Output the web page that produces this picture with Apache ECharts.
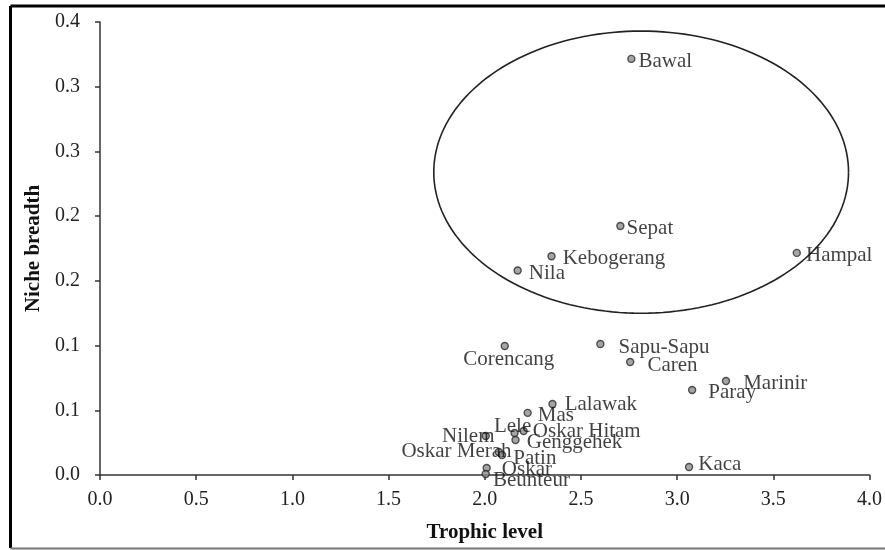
<!DOCTYPE html>
<html>
<head>
<meta charset="utf-8">
<script src="https://cdn.jsdelivr.net/npm/echarts@6/dist/echarts.min.js"></script>
<style>
html,body{margin:0;padding:0;background:#fff;}
#chart{width:885px;height:550px;}
</style>
</head>
<body>
<div id="chart"></div>
<script>
// ---- data ----
const species = ['Bawal','Sepat','Kebogerang','Nila','Hampal','Corencang','Sapu-Sapu','Caren','Paray','Marinir','Kaca','Lalawak','Mas','Lele','Oskar Hitam','Nilem','Genggehek','Oskar Merah','Patin','Oskar','Beunteur'];
const trophicLevel = [2.762,2.705,2.347,2.171,3.622,2.104,2.601,2.756,3.078,3.254,3.062,2.352,2.223,2.155,2.202,2.005,2.160,2.073,2.090,2.010,2.005];
const nicheBreadth = [0.3215,0.1924,0.1690,0.1580,0.1716,0.0997,0.1012,0.0873,0.0657,0.0726,0.0062,0.0549,0.0480,0.0325,0.0340,0.0301,0.0270,0.0178,0.0155,0.0054,0.0008];
const xTickLabels = ['0.0','0.5','1.0','1.5','2.0','2.5','3.0','3.5','4.0'];
const yTickLabels = ['0.0','0.1','0.1','0.2','0.2','0.3','0.3','0.4'];
// ellipse enclosing the upper group: centre x, centre y, radius x, radius y (data units)
const ellipseGroup = [2.813, 0.234, 1.078, 0.109];

// ---- label placement (style) ----
const labelPlace = {
  'Bawal':{p:'right',o:[1,3]}, 'Sepat':{p:'right',o:[0,3]}, 'Kebogerang':{p:'right',o:[5,2]},
  'Nila':{p:'right',o:[5,3]}, 'Hampal':{p:'right',o:[3,3]}, 'Corencang':{p:'bottom',o:[4,-3]},
  'Sapu-Sapu':{p:'right',o:[12,3]}, 'Caren':{p:'right',o:[11,3]}, 'Paray':{p:'right',o:[10,3]},
  'Marinir':{p:'right',o:[11,2]}, 'Kaca':{p:'right',o:[3,-2]}, 'Lalawak':{p:'right',o:[6,1]},
  'Mas':{p:'right',o:[4,3]}, 'Lele':{p:'top',o:[-2,10]}, 'Oskar Hitam':{p:'right',o:[3,0]},
  'Nilem':{p:'left',o:[15,0]}, 'Genggehek':{p:'right',o:[5,2]}, 'Oskar Merah':{p:'left',o:[19,0]},
  'Patin':{p:'right',o:[5,4]}, 'Oskar':{p:'right',o:[9,1]}, 'Beunteur':{p:'right',o:[1,7]}
};

const FONT = '"Liberation Serif","DejaVu Serif",serif';
const points = species.map((n,i)=>({
  name:n, value:[trophicLevel[i], nicheBreadth[i]],
  label:{position:labelPlace[n].p}
}));

const chart = echarts.init(document.getElementById('chart'), null, {renderer:'canvas'});
chart.setOption({
  animation:false,
  backgroundColor:'#fff',
  grid:{left:100, right:13, top:22, bottom:75},
  xAxis:{
    type:'value', min:0, max:4, interval:0.5,
    name:'Trophic level', nameLocation:'middle', nameGap:47,
    nameTextStyle:{fontFamily:FONT, fontSize:21, fontWeight:'bold', color:'#111'},
    axisLine:{lineStyle:{color:'#333', width:1.5}},
    axisTick:{inside:false, length:5, lineStyle:{color:'#333', width:1.5}},
    axisLabel:{margin:15, fontFamily:FONT, fontSize:20, color:'#222',
      formatter:v=>xTickLabels[Math.round(v/0.5)]},
    splitLine:{show:false}
  },
  yAxis:{
    type:'value', min:0, max:0.35, interval:0.05,
    name:'Niche breadth', nameLocation:'middle', nameGap:45,
    nameTextStyle:{fontFamily:FONT, fontSize:21, fontWeight:'bold', color:'#111'},
    axisLine:{show:true, lineStyle:{color:'#333', width:1.5}},
    axisTick:{show:true, inside:false, length:5, lineStyle:{color:'#333', width:1.5}},
    axisLabel:{margin:20, fontFamily:FONT, fontSize:20, color:'#222',
      formatter:v=>yTickLabels[Math.round(v/0.05)]},
    splitLine:{show:false}
  },
  series:[
    {
      type:'custom',
      silent:true,
      data:[ellipseGroup],
      renderItem:(params, api)=>{
        const c = api.coord([api.value(0), api.value(1)]);
        const s = api.size([api.value(2), api.value(3)]);
        const pts = [];
        for(let k=0;k<=180;k++){
          const t = k/180*Math.PI*2;
          pts.push([c[0]+s[0]*Math.cos(t), c[1]+s[1]*Math.sin(t)]);
        }
        return {type:'polyline', shape:{points:pts}, style:{fill:null, stroke:'#222', lineWidth:1.6}};
      },
      encode:{x:0, y:1},
      z:1
    },
    {
      type:'scatter',
      data:points,
      symbol:'circle',
      symbolSize:7,
      itemStyle:{color:'#8f8f8f', borderColor:'#2a2a2a', borderWidth:1.4},
      label:{show:true, formatter:'{b}', distance:2, fontFamily:FONT, fontSize:21, color:'#111'},
      labelLayout:(params)=>{
        const o = labelPlace[species[params.dataIndex]].o;
        return {dx:o[0], dy:o[1], hideOverlap:false};
      },
      z:3
    }
  ],
  graphic:[
    {type:'line', shape:{x1:10.5, y1:6, x2:885, y2:6}, style:{stroke:'#000', lineWidth:3}, silent:true},
    {type:'line', shape:{x1:10.5, y1:6, x2:10.5, y2:548}, style:{stroke:'#000', lineWidth:3}, silent:true},
    {type:'line', shape:{x1:10.5, y1:548.5, x2:885, y2:548.5}, style:{stroke:'#777', lineWidth:2}, silent:true}
  ]
});
</script>
</body>
</html>
